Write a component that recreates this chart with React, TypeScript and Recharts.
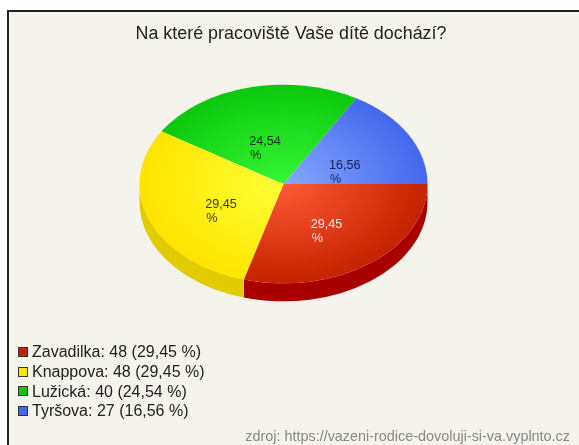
import React from 'react';
import { PieChart, Pie, Legend } from 'recharts';

const sites = ['Zavadilka', 'Knappova', 'Lužická', 'Tyršova'];
const counts = [48, 48, 40, 27];
const shares = ['29,45', '29,45', '24,54', '16,56'];
const topColors = ['#ff5a36', '#ffff36', '#36f636', '#86a8ff'];
const rimColors = ['#c42200', '#ffe400', '#0cc80c', '#4468ee'];
const wallColors = ['#a80000', '#e2cc00', '#0a9a0a', '#3048b0'];
const labelColors = ['#ffffff', '#222200', '#0a1a0a', '#0a1440'];
// hand tweak so the labels sit where the original has them
const labelShift = [[0, 0], [5, 2], [-1, 5], [-1, 6]];

const W = 579;
const H = 445;
const CX = 283.5;
const CY = 184;
const R = 144;
const SQUASH = 0.69;
const DEPTH = 18;

const chartData = sites.map((name, i) => ({ name, value: counts[i], share: shares[i], idx: i }));

const pt = (cx: number, cy: number, r: number, deg: number) => {
  const a = (deg * Math.PI) / 180;
  return [cx + r * Math.cos(a), cy - r * SQUASH * Math.sin(a)];
};

// top face, recharts gives us the angles, we just flatten the circle
const TopSlice = (p: any) => {
  const [x0, y0] = pt(p.cx, p.cy, p.outerRadius, p.startAngle);
  const [x1, y1] = pt(p.cx, p.cy, p.outerRadius, p.endAngle);
  const large = Math.abs(p.endAngle - p.startAngle) > 180 ? 1 : 0;
  const d = `M${p.cx},${p.cy}L${x0},${y0}A${p.outerRadius},${p.outerRadius * SQUASH} 0 ${large} 1 ${x1},${y1}Z`;
  return <path d={d} fill={`url(#top-${p.idx})`} />;
};

// side wall, only the front half can be seen
const WallSlice = (p: any) => {
  const s = Math.max(p.startAngle, -180);
  const e = Math.max(p.endAngle, -180);
  if (s <= e) return <g />;
  const [x0, y0] = pt(p.cx, p.cy, p.outerRadius, s);
  const [x1, y1] = pt(p.cx, p.cy, p.outerRadius, e);
  const rx = p.outerRadius;
  const ry = rx * SQUASH;
  const d = `M${x0},${y0}A${rx},${ry} 0 0 1 ${x1},${y1}L${x1},${y1 + DEPTH}A${rx},${ry} 0 0 0 ${x0},${y0 + DEPTH}Z`;
  return <path d={d} fill={wallColors[p.idx]} />;
};

const SliceLabel = (p: any) => {
  const [x, y] = pt(p.cx, p.cy, p.outerRadius * 0.5, p.midAngle);
  const left = x - 16 + labelShift[p.idx][0];
  return (
    <text x={left} y={y + 4 + labelShift[p.idx][1]} fontSize={12.6} fontFamily="Liberation Sans" fill={labelColors[p.idx]} fillOpacity={0.9}>
      <tspan x={left}>{p.share}</tspan>
      <tspan x={left + 1} dy={14}>%</tspan>
    </text>
  );
};

const LegendList = () => (
  <div style={{ fontFamily: 'Liberation Sans', fontSize: 16, color: '#222', lineHeight: '19.8px' }}>
    {chartData.map((d, i) => (
      <div key={d.name} style={{ display: 'flex', alignItems: 'center', whiteSpace: 'pre' }}>
        <span style={{ width: 8, height: 8, border: '1px solid #333', background: rimColors[i], marginRight: 4 }} />
        {`${d.name}: ${d.value} (${d.share} %)`}
      </div>
    ))}
  </div>
);

export default function App() {
  return (
    <div style={{ position: 'absolute', left: 0, top: 0, width: W, height: H, background: '#fff', overflow: 'hidden' }}>
      <div style={{ position: 'absolute', left: 7, top: 10, width: W, height: H, background: '#f4f3ec', borderLeft: '2px solid #222', borderTop: '2px solid #222' }} />
      <div style={{ position: 'absolute', left: 0, top: 0, filter: 'blur(0.5px)' }}>
        <PieChart width={W} height={H} margin={{ top: 0, right: 0, bottom: 0, left: 0 }}>
          <defs>
            {topColors.map((c, i) => (
              <radialGradient
                key={c}
                id={`top-${i}`}
                gradientUnits="userSpaceOnUse"
                cx={0}
                cy={0}
                r={1}
                gradientTransform={`translate(${CX} ${CY}) scale(${R} ${R * SQUASH})`}
              >
                <stop offset="0%" stopColor={c} />
                <stop offset="100%" stopColor={rimColors[i]} />
              </radialGradient>
            ))}
          </defs>
          <text x={291} y={39} textAnchor="middle" fontSize={17.9} fontFamily="Liberation Sans" fill="#222">
            Na které pracoviště Vaše dítě dochází?
          </text>
          <text x={570} y={441} textAnchor="end" fontSize={14.4} fontFamily="Liberation Sans" fill="#888">
            zdroj: https://vazeni-rodice-dovoluji-si-va.vyplnto.cz
          </text>
          <Pie
            data={chartData}
            dataKey="value"
            nameKey="name"
            cx={CX}
            cy={CY}
            outerRadius={R}
            startAngle={0}
            endAngle={-360}
            stroke="none"
            legendType="none"
            shape={WallSlice}
            isAnimationActive={false}
          />
          <Pie
            data={chartData}
            dataKey="value"
            nameKey="name"
            cx={CX}
            cy={CY}
            outerRadius={R}
            startAngle={0}
            endAngle={-360}
            stroke="none"
            shape={TopSlice}
            label={SliceLabel}
            labelLine={false}
            isAnimationActive={false}
          />
          <Legend
            content={<LegendList />}
            wrapperStyle={{ position: 'absolute', left: 18, top: 342, width: 300, bottom: 'auto' }}
          />
        </PieChart>
      </div>
    </div>
  );
}
